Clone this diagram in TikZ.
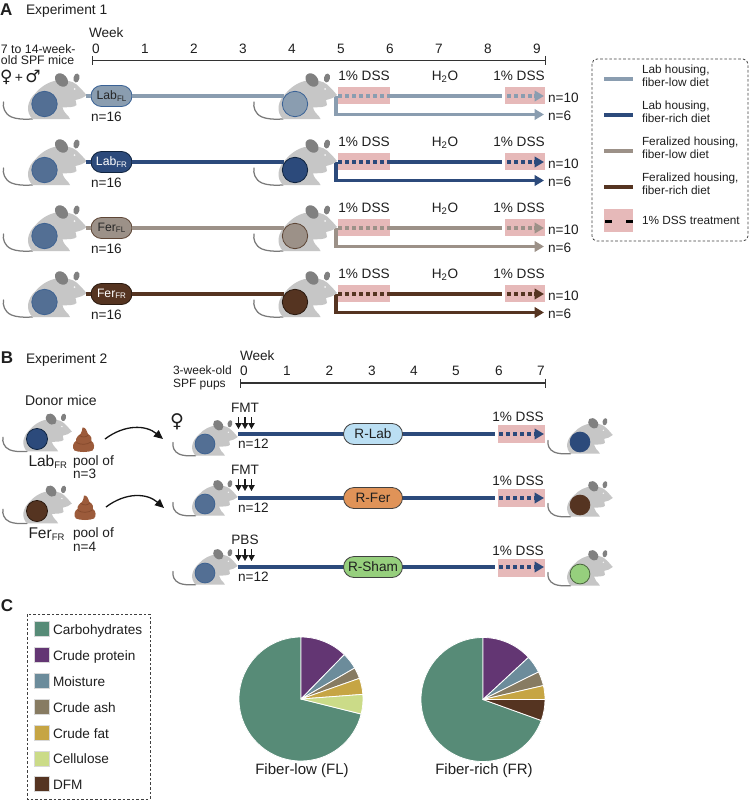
\documentclass[tikz,border=0pt]{standalone}
\usepackage{fontspec}
\setmainfont{Liberation Sans}
\newfontfamily\symfont{DejaVu Sans}
\usetikzlibrary{arrows.meta,shapes.misc,calc}

% diet and housing colours
\definecolor{labfl}{HTML}{8A9DB0}
\definecolor{labflb}{HTML}{3A6296}
\definecolor{labfr}{HTML}{2C4A7B}
\definecolor{labfrb}{HTML}{10243F}
\definecolor{ferfl}{HTML}{9C9188}
\definecolor{ferflb}{HTML}{5E4636}
\definecolor{ferfr}{HTML}{553421}
\definecolor{ferfrb}{HTML}{2A1A10}
\definecolor{basem}{HTML}{536F94}
\definecolor{basemb}{HTML}{3F6392}
\definecolor{dss}{HTML}{E6B9B9}
\definecolor{rlab}{HTML}{BBDFF3}
\definecolor{rfer}{HTML}{E09358}
\definecolor{rsham}{HTML}{96CF7D}
\definecolor{fur}{HTML}{C6C6C6}
\definecolor{earc}{HTML}{808080}
\definecolor{poop}{HTML}{9C5B3B}
\definecolor{poopd}{HTML}{84492C}
% nutrient colours
\definecolor{carb}{HTML}{578B77}
\definecolor{prot}{HTML}{633673}
\definecolor{moist}{HTML}{6C8C9B}
\definecolor{ash}{HTML}{877B62}
\definecolor{fat}{HTML}{C6A544}
\definecolor{cellu}{HTML}{CBDB88}
\definecolor{dfm}{HTML}{553421}

\newcommand{\fs}[1]{\fontsize{#1}{#1}\selectfont}
\newcommand{\subtx}[2]{\raisebox{-1.6pt}{\fs{#1}#2}}

% mouse seen from the side: x, y of the flank disc, scale, disc fill, disc border
\newcommand{\mousefig}[5]{%
  \begin{scope}[shift={(#1,#2)},scale=#3]
    \draw[earc!95!black,line width=1.25pt,line cap=round]
      (-12,15) .. controls (-22,15.5) and (-28,15) .. (-33,13)
      .. controls (-40,10) and (-42,3) .. (-41,-2);
    \fill[fur] (-12,15)
      .. controls (-19,8) and (-18,-3) .. (-8,-12)
      .. controls (-2,-19) and (8,-24) .. (15,-23.5)
      .. controls (21,-24) and (28,-23) .. (32,-19.5)
      .. controls (36,-16) and (39,-12.5) .. (42,-9)
      .. controls (39,-6) and (35,-5) .. (31,-4)
      -- (32,1) .. controls (30,3.5) and (24,3) .. (18,3.5)
      .. controls (19,8) and (22,10) .. (24,12.5)
      -- (25.5,15) -- cycle;
    \fill[earc] (17,-24) ellipse[x radius=7.5,y radius=5.6,rotate=-48];
    \fill[earc] (32,-26) ellipse[x radius=3,y radius=4.6,rotate=-12];
    \fill[white!85!fur] (30,-15) circle[radius=1];
    \draw[fill=#4,draw=#5,line width=.8pt] (0,0) circle[radius=12.7];
  \end{scope}}

% pile of droppings centred on x, y
\newcommand{\poopfig}[2]{%
  \begin{scope}[shift={(#1,#2)}]
    \fill[poop] (-1,-12.5) .. controls (2,-13) and (3.5,-9) .. (4.5,-6)
      .. controls (8,-4) and (8.5,-1) .. (8,1)
      .. controls (11,3) and (11.5,8) .. (9,10.5)
      .. controls (5,12.5) and (-5,12.5) .. (-9,10.5)
      .. controls (-11.5,8) and (-11,3) .. (-7.5,1)
      .. controls (-8,-2) and (-5,-5) .. (-3,-6)
      .. controls (-2,-8) and (-1,-10) .. (-1,-12.5) -- cycle;
    \draw[poopd,line width=.7pt] (-7,2.5) .. controls (-3,5) and (3,5) .. (7.5,2)
      (-4,-4.5) .. controls (-1,-2.5) and (2,-2.5) .. (5,-5);
  \end{scope}}

% one slice of a pie, from angle a to angle b
\newcommand{\pieslice}[3]{%
  \filldraw[fill=#3,draw=white,line width=.8pt,line join=round]
    (0,0) -- (#1:62) arc[start angle=#1,end angle=#2,radius=62] -- cycle;}

\tikzset{
  x=1pt,y=-1pt,
  every node/.style={inner sep=0pt,outer sep=0pt,text=black!88},
  down/.style={yshift=-2pt},
  txt/.style={font=\fs{13.6},anchor=mid,down},
  txtw/.style={font=\fs{13.6},anchor=mid west,down},
  keytxt/.style={font=\fs{11.8},anchor=mid west,align=left},
  axisline/.style={line width=1.2pt,draw=black!80,{Bar[width=9pt,line width=1.2pt]}-{Bar[width=9pt,line width=1.2pt]}},
  diet/.style={line width=3.7pt,draw=#1},
  dietdots/.style={line width=3.7pt,draw=#1,dash pattern=on 3.8pt off 3.2pt},
  diettip/.style={line width=3.7pt,draw=#1,-{Triangle[length=9.5pt,width=10.5pt,fill=#1]}},
  pink/.style={fill=dss,draw=none},
  pill/.style={rounded rectangle,minimum height=21pt,line width=.8pt},
  dosearrow/.style={line width=1.2pt,draw=black!90,-{Triangle[length=6pt,width=6.5pt]}},
  transfer/.style={line width=1.3pt,draw=black!92,-{Triangle[length=9pt,width=8pt]}},
  keybox/.style={draw=black!75,line width=.8pt,dash pattern=on 2.6pt off 2pt},
  swatch/.style={minimum size=15pt,draw=black!15,line width=.3pt},
}

\begin{document}
\begin{tikzpicture}
\useasboundingbox (0,0) rectangle (750,800);
\fill[white] (0,0) rectangle (750,800);

% ---------- Experiment 1 ----------
\node[font=\fs{17}\bfseries,anchor=mid west,yshift=-2.5pt] (lblA) at (0,10) {A};
\node[txtw,font=\fs{13.8}] (titleA) at (26,10) {Experiment 1};
\node[txtw] (weekA) at (89,33) {Week};
\node[font=\fs{12.3},anchor=mid west,down] (agea) at (1,49) {7 to 14-week-};
\node[font=\fs{12.3},anchor=mid west] (ageb) at (1,62) {old SPF mice};
\node[anchor=mid west,font=\fs{14},down] (sexes) at (0,77.5) {{\symfont\fs{17}♀}\,+\,{\symfont\fs{17}♂}};

\coordinate (axAl) at (92,60.5);
\coordinate (axAr) at (546,60.5);
\draw[axisline] (axAl) -- (axAr);
\foreach \w/\xx in {0/96,1/145,2/194,3/243,4/292,5/341,6/390,7/439,8/488,9/537}
  \node[txt] (tickA\w) at (\xx,49) {\w};

\foreach \r/\yy/\c/\b/\nm/\sb/\tc in {
  1/96/labfl/labflb/Lab/FL/black!85,
  2/162/labfr/labfrb/Lab/FR/white,
  3/228/ferfl/ferflb/Fer/FL/black!85,
  4/294/ferfr/ferfrb/Fer/FR/white}{
  \coordinate (noseA\r) at (86,\yy);
  \coordinate (endA\r) at (284,\yy);
  \coordinate (splitA\r) at (336,\yy);
  \coordinate (d1sA\r) at (338,\yy);
  \coordinate (d1eA\r) at (390,\yy);
  \coordinate (d2sA\r) at (505,\yy);
  \coordinate (d2eA\r) at (502,\yy);
  \coordinate (d2mA\r) at (534,\yy);
  \coordinate (tipA\r) at (544,\yy);
  \coordinate (lowA\r) at (336,\yy+18.5);
  \coordinate (lowtipA\r) at (544,\yy+18.5);
  % treatment windows
  \fill[pink] (338,\yy-9) rectangle (390,\yy+8);
  \fill[pink] (505,\yy-9) rectangle (545,\yy+8);
  % timeline segments
  \draw[diet=\c] (noseA\r) -- (endA\r);
  \draw[dietdots=\c] (d1sA\r) -- (d1eA\r);
  \draw[diet=\c] (d1eA\r) -- (d2eA\r);
  \draw[dietdots=\c] ($(d2sA\r)+(2,0)$) -- (d2mA\r);
  \draw[diettip=\c] (d2mA\r) -- (tipA\r);
  \draw[diettip=\c] (splitA\r) -- (lowA\r) -- (lowtipA\r);
  % animals at the start and at week 4
  \mousefig{44.5}{\yy+8}{1}{basem}{basemb}
  \mousefig{295}{\yy+8}{1}{\c}{\b}
  \node[pill,fill=\c,draw=\b,minimum width=41pt,font=\fs{12.2},text=\tc] (pillA\r) at (111.5,\yy) {\nm\subtx{8}{\sb}};
  \draw[diet=\c] (noseA\r) -- (pillA\r.west);
  \draw[diet=\c] (pillA\r.east) -- (endA\r);
  \node[txtw] (startnA\r) at (91,\yy+20.5) {n=16};
  \node[txt] (dssaA\r) at (364,\yy-20) {1\% DSS};
  \node[txt] (waterA\r) at (445,\yy-20) {H\textsubscript{2}O};
  \node[txt] (dssbA\r) at (519,\yy-20) {1\% DSS};
  \node[txtw] (ntenA\r) at (548,\yy+2) {n=10};
  \node[txtw] (nsixA\r) at (548,\yy+20) {n=6};
}

% key to the diets
\draw[keybox,rounded corners=5pt] (592,59) rectangle (748,241);
\foreach \k/\yy/\c/\ta/\tb in {
  1/79/labfl/{Lab housing,}/fiber-low diet,
  2/115/labfr/{Lab housing,}/fiber-rich diet,
  3/151/ferfl/{Feralized housing,}/fiber-low diet,
  4/187/ferfr/{Feralized housing,}/fiber-rich diet}{
  \coordinate (keyL\k) at (604,\yy);
  \coordinate (keyR\k) at (633,\yy);
  \draw[diet=\c] (keyL\k) -- (keyR\k);
  \node[keytxt,yshift=-4.5pt] (keyT\k) at (642,\yy+.5) {\ta\\[1.2pt]\tb};
}
\fill[pink] (604,209) rectangle (633,232);
\coordinate (keyDa) at (605,221);
\coordinate (keyDb) at (612,221);
\coordinate (keyDc) at (626,221);
\coordinate (keyDd) at (633,221);
\draw[line width=3pt,black] (keyDa) -- (keyDb) (keyDc) -- (keyDd);
\node[keytxt,yshift=-1.5pt] (keyT5) at (642,220.5) {1\% DSS treatment};

% ---------- Experiment 2 ----------
\node[font=\fs{17}\bfseries,anchor=mid west,yshift=-2.5pt] (lblB) at (1,358) {B};
\node[txtw,font=\fs{13.8}] (titleB) at (26,359) {Experiment 2};
\node[txtw] (weekB) at (240,356) {Week};
\node[font=\fs{12},anchor=mid west,down] (pupsa) at (173,370) {3-week-old};
\node[font=\fs{12},anchor=mid west,down] (pupsb) at (173,382.5) {SPF pups};

\coordinate (axBl) at (240,383);
\coordinate (axBr) at (546,383);
\draw[axisline] (axBl) -- (axBr);
\foreach \w/\xx in {0/244,1/287,2/329.5,3/372,4/414,5/456,6/499,7/541}
  \node[txt] (tickB\w) at (\xx,371) {\w};

% donors and their pooled faeces
\node[txtw,font=\fs{14}] (donor) at (25,401) {Donor mice};
\mousefig{37}{439}{.83}{labfr}{labfrb}
\mousefig{37}{511}{.83}{ferfr}{ferfrb}
\poopfig{83.5}{440}
\poopfig{85}{508}
\node[anchor=mid west,font=\fs{15.5},down] (donorLab) at (28.5,462) {Lab\subtx{9.5}{FR}};
\node[anchor=mid west,font=\fs{15.5},down] (donorFer) at (28.5,534) {Fer\subtx{9.5}{FR}};
\node[txtw] (poolLa) at (73,461) {pool of};
\node[txtw] (poolLb) at (73,474) {n=3};
\node[txtw] (poolFa) at (73,533) {pool of};
\node[txtw] (poolFb) at (73,547) {n=4};

\coordinate (trLs) at (105,439);
\coordinate (trLe) at (163,439);
\coordinate (trFs) at (106,507);
\coordinate (trFe) at (164,508);
\draw[transfer] (trLs) .. controls (125,424) and (146,425) .. (trLe);
\draw[transfer] (trFs) .. controls (126,492) and (147,493) .. (trFe);
\node[anchor=center,font=\symfont\fs{19}] (femaleB) at (177,422) {♀};

\foreach \r/\yy/\my/\ey/\py/\nm/\dose/\c/\eb/\ty in {
  1/434/444/442/425/R-Lab/FMT/rlab/labfrb/408,
  2/498/504/505/489/R-Fer/FMT/rfer/ferfrb/470,
  3/567/573/574/559/R-Sham/PBS/rsham/black!50!rsham/540}{
  \coordinate (lineBs\r) at (238,\yy);
  \coordinate (lineBe\r) at (495,\yy);
  \coordinate (dotBs\r) at (499,\yy);
  \coordinate (dotBe\r) at (534,\yy);
  \coordinate (tipB\r) at (544,\yy);
  \fill[pink] (498,\py-.5) rectangle (544.5,\py+17.5);
  \mousefig{205}{\my}{.78}{basem}{basemb}
  \draw[diet=labfr] (lineBs\r) -- (lineBe\r);
  \draw[dietdots=labfr] (dotBs\r) -- (dotBe\r);
  \draw[diettip=labfr] (dotBe\r) -- (tipB\r);
  \node[pill,fill=\c,draw=black!75,minimum width=59pt,font=\fs{13.6}] (pillB\r) at (373,\yy) {\nm};
  \node[txt] (doseB\r) at (245,\ty) {\dose};
  \foreach \a/\ax in {1/238.5,2/245,3/251.5}{
    \coordinate (doseS\r\a) at (\ax,\ty+9);
    \coordinate (doseE\r\a) at (\ax,\ty+21);
    \draw[dosearrow] (doseS\r\a) -- (doseE\r\a);
  }
  \node[txtw] (nB\r) at (238,\yy+9.5) {n=12};
  \node[txt] (dssB\r) at (518,\py-8) {1\% DSS};
}
\mousefig{580}{442}{.78}{labfr}{labfr}
\mousefig{580}{505}{.78}{ferfr}{ferfr}
\mousefig{580}{574}{.78}{rsham}{black!50!rsham}

% ---------- Diet composition ----------
\node[font=\fs{17}\bfseries,anchor=mid west,yshift=-2.5pt] (lblC) at (1,606) {C};
\draw[keybox] (27,614) rectangle (150,799);
\foreach \k/\yy/\c/\t in {
  1/629/carb/Carbohydrates,
  2/655/prot/Crude protein,
  3/681/moist/Moisture,
  4/707/ash/Crude ash,
  5/733/fat/Crude fat,
  6/758.5/cellu/Cellulose,
  7/784/dfm/DFM}{
  \node[swatch,fill=\c] (swatch\k) at (42,\yy) {};
  \node[txtw] (comp\k) at (53,\yy+.5) {\t};
}

\begin{scope}[shift={(301,699)},x=1pt,y=1pt]
  \pieslice{90}{346}{carb}
  \pieslice{45.7}{90}{prot}
  \pieslice{30}{45.7}{moist}
  \pieslice{19.5}{30}{ash}
  \pieslice{4.3}{19.5}{fat}
  \pieslice{-14}{4.3}{cellu}
\end{scope}
\begin{scope}[shift={(483,699.5)},x=1pt,y=1pt]
  \pieslice{90}{340.2}{carb}
  \pieslice{42.8}{90}{prot}
  \pieslice{26.4}{42.8}{moist}
  \pieslice{13}{26.4}{ash}
  \pieslice{0}{13}{fat}
  \pieslice{-19.8}{0}{dfm}
\end{scope}
\node[anchor=mid,font=\fs{15},down] (pieFL) at (302,770) {Fiber-low (FL)};
\node[anchor=mid,font=\fs{15},down] (pieFR) at (484,770) {Fiber-rich (FR)};
\end{tikzpicture}
\end{document}
